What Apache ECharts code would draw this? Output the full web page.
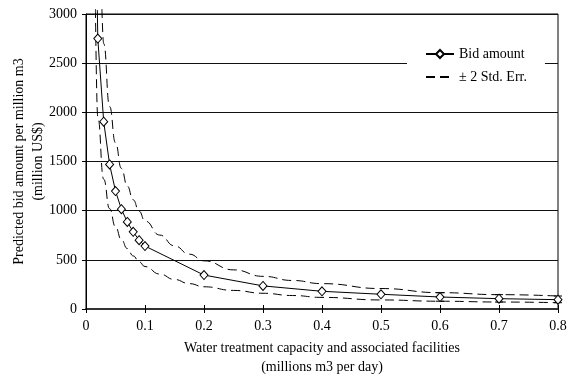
<!DOCTYPE html>
<html>
<head>
<meta charset="utf-8">
<script src="https://cdn.jsdelivr.net/npm/echarts@6/dist/echarts.min.js"></script>
<style>
  html, body { margin: 0; padding: 0; background: #fff; }
  #chart { width: 569px; height: 381px; }
</style>
</head>
<body>
<div id="chart"></div>
<script>
// Capacity (millions m3 per day) and predicted bid amount per million m3 (million US$)
const capacity  = [0.02, 0.03, 0.04, 0.05, 0.06, 0.07, 0.08, 0.09, 0.1, 0.2, 0.3, 0.4, 0.5, 0.6, 0.7, 0.8];
const bidAmount = [2750, 1905, 1470, 1200, 1015, 885, 785, 700, 640, 345, 235, 180, 150, 122, 105, 95];
// where the fitted line leaves the top of the plot
const bidLineStart = [0.0192, 3040];

// +2 standard error curve
const upperCapacity = [0.027, 0.03, 0.04, 0.05, 0.06, 0.07, 0.08, 0.09, 0.1, 0.125, 0.15, 0.175, 0.2, 0.25, 0.3, 0.35, 0.4, 0.5, 0.6, 0.7, 0.8];
const upperBound    = [3050, 2700, 2060, 1690, 1430, 1250, 1110, 995, 895, 752, 642, 558, 490, 398, 332, 290, 258, 208, 166, 146, 132];
// -2 standard error curve
const lowerCapacity = [0.016, 0.02, 0.03, 0.04, 0.05, 0.06, 0.07, 0.08, 0.09, 0.1, 0.125, 0.15, 0.175, 0.2, 0.25, 0.3, 0.35, 0.4, 0.5, 0.6, 0.7, 0.8];
const lowerBound    = [3050, 1950, 1320, 1020, 835, 705, 615, 540, 480, 432, 355, 300, 258, 226, 189, 160, 137, 118, 92, 79, 71, 64];

// error bars on the widest capacities
const errCapacity = [0.6, 0.7, 0.8];
const errLow      = [79, 71, 64];
const errHigh     = [166, 146, 132];

const xTicks = [0, 0.1, 0.2, 0.3, 0.4, 0.5, 0.6, 0.7, 0.8];
const yTicks = [0, 500, 1000, 1500, 2000, 2500, 3000];

const FONT = "'Liberation Serif', 'Times New Roman', serif";
const INK = '#000';

const chart = echarts.init(document.getElementById('chart'), null, { renderer: 'canvas' });

const bidData = [{ value: bidLineStart, symbol: 'none' }]
  .concat(capacity.map((c, i) => [c, bidAmount[i]]));
const upperData = upperCapacity.map((c, i) => [c, upperBound[i]]);
const lowerData = lowerCapacity.map((c, i) => [c, lowerBound[i]]);
const errData = errCapacity.map((c, i) => [c, errLow[i], errHigh[i]]);

const dashedStyle = { color: INK, width: 1, type: [9, 5] };
const tickText = (list, v) => String(list.find(t => Math.abs(t - v) < 1e-9) ?? v);

chart.setOption({
  animation: false,
  backgroundColor: '#fff',
  grid: {
    left: 86, right: 11, top: 14, bottom: 72,
    containLabel: false,
    outerBoundsMode: 'none',
    show: true, borderColor: INK, borderWidth: 1, backgroundColor: 'transparent'
  },
  legend: {
    orient: 'vertical',
    left: 407, top: 39,
    padding: [8, 18, 8, 18],
    backgroundColor: '#fff',
    itemWidth: 28, itemHeight: 10, itemGap: 9,
    selectedMode: false,
    textStyle: { fontFamily: FONT, fontSize: 14, color: INK },
    data: [
      { name: 'Bid amount' },
      { name: '± 2 Std. Err.', itemStyle: { opacity: 0 } }
    ]
  },
  xAxis: [{
    type: 'value',
    min: xTicks[0], max: xTicks[xTicks.length - 1], interval: 0.1,
    name: 'Water treatment capacity and associated facilities\n(millions m3 per day)',
    nameLocation: 'middle', nameGap: 30, nameMoveOverlap: false,
    nameTextStyle: { fontFamily: FONT, fontSize: 14, color: INK, lineHeight: 19 },
    axisLine: { show: true, onZero: false, lineStyle: { color: '#333', width: 2 } },
    axisTick: { show: true, length: 4, lineStyle: { color: INK, width: 1 } },
    axisLabel: { fontFamily: FONT, fontSize: 14, color: INK, margin: 10,
      formatter: v => tickText(xTicks, v) },
    splitLine: { show: false }
  }, {
    // upward half of the crossing ticks on the capacity axis
    type: 'value', position: 'top', offset: -295,
    min: xTicks[0], max: xTicks[xTicks.length - 1], interval: 0.1,
    axisLine: { show: false },
    axisTick: { show: true, length: 4, lineStyle: { color: INK, width: 1 } },
    axisLabel: { show: false },
    splitLine: { show: false }
  }],
  yAxis: {
    type: 'value',
    min: yTicks[0], max: yTicks[yTicks.length - 1], interval: 500,
    name: 'Predicted bid amount per million m3\n(million US$)',
    nameLocation: 'middle', nameGap: 38, nameMoveOverlap: false,
    nameTextStyle: { fontFamily: FONT, fontSize: 14, color: INK, lineHeight: 19 },
    axisLine: { show: true, lineStyle: { color: INK, width: 1 } },
    axisTick: { show: true, length: 4, lineStyle: { color: INK, width: 1 } },
    axisLabel: { fontFamily: FONT, fontSize: 14, color: INK, margin: 9,
      formatter: v => tickText(yTicks, v) },
    splitLine: { show: true, lineStyle: { color: '#111', width: 1 } }
  },
  series: [
    {
      name: 'Bid amount',
      type: 'line',
      xAxisIndex: 0,
      data: bidData,
      clip: false,
      symbol: 'diamond',
      symbolSize: [8, 9],
      showAllSymbol: true,
      lineStyle: { color: INK, width: 1 },
      itemStyle: { color: '#fff', borderColor: INK, borderWidth: 1 },
      z: 4
    },
    {
      name: '± 2 Std. Err.',
      type: 'line',
      xAxisIndex: 0,
      data: upperData,
      clip: false,
      smooth: 0.5,
      smoothMonotone: 'x',
      symbol: 'none',
      lineStyle: dashedStyle,
      itemStyle: { color: INK },
      z: 3
    },
    {
      name: '± 2 Std. Err.',
      type: 'line',
      xAxisIndex: 0,
      data: lowerData,
      clip: false,
      smooth: 0.5,
      smoothMonotone: 'x',
      symbol: 'none',
      lineStyle: dashedStyle,
      itemStyle: { color: INK },
      z: 3
    },
    {
      name: 'error',
      type: 'custom',
      xAxisIndex: 0,
      data: errData,
      encode: { x: 0, y: [1, 2] },
      renderItem: function (params, api) {
        const x = api.value(0);
        const lo = api.coord([x, api.value(1)]);
        const hi = api.coord([x, api.value(2)]);
        const w = 4;
        const st = { stroke: INK, lineWidth: 1 };
        return {
          type: 'group',
          children: [
            { type: 'line', shape: { x1: lo[0], y1: lo[1], x2: hi[0], y2: hi[1] }, style: st },
            { type: 'line', shape: { x1: lo[0] - w, y1: lo[1], x2: lo[0] + w, y2: lo[1] }, style: st },
            { type: 'line', shape: { x1: hi[0] - w, y1: hi[1], x2: hi[0] + w, y2: hi[1] }, style: st }
          ]
        };
      },
      z: 2
    }
  ]
});
</script>
</body>
</html>
